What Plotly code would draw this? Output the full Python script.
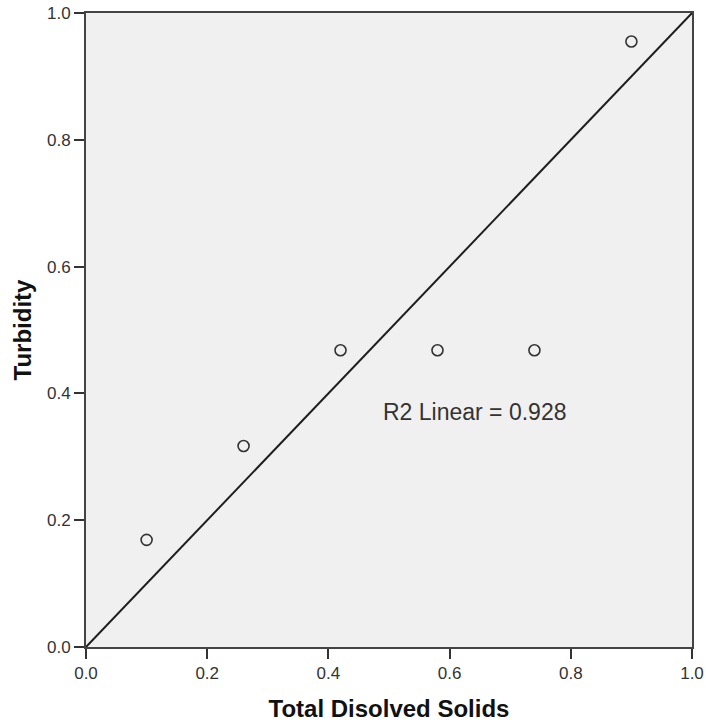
import plotly.graph_objects as go

tds = [0.10, 0.26, 0.42, 0.58, 0.74, 0.90]
turbidity = [0.169, 0.317, 0.468, 0.468, 0.468, 0.955]
fit_x = [0.0, 1.0]
fit_y = [0.0, 1.0]
tick_vals = [0.0, 0.2, 0.4, 0.6, 0.8, 1.0]
tick_text = ["0.0", "0.2", "0.4", "0.6", "0.8", "1.0"]
r2_label = "R2 Linear = 0.928"

fig = go.Figure()
fig.add_trace(go.Scatter(x=fit_x, y=fit_y, mode="lines",
                         line=dict(color="#1e1e1e", width=2), hoverinfo="skip", showlegend=False))
fig.add_trace(go.Scatter(x=tds, y=turbidity, mode="markers",
                         marker=dict(symbol="circle-open", size=11, color="#333333",
                                     line=dict(width=1.6, color="#333333")),
                         showlegend=False))

fig.add_annotation(x=0.642, y=0.371, xref="x", yref="y", text=r2_label, showarrow=False,
                   font=dict(family="Liberation Sans, Arial", size=23, color="#333333"))

axis_common = dict(range=[0, 1], tickvals=tick_vals, ticktext=tick_text, ticks="outside",
                   ticklen=10, tickwidth=2, tickcolor="#333333", showgrid=False, zeroline=False,
                   showline=True, linecolor="#444444", linewidth=2, mirror=True,
                   tickfont=dict(family="Liberation Sans, Arial", size=17, color="#333333"))

fig.update_xaxes(**axis_common,
                 title=dict(text="<b>Total Disolved Solids</b>", standoff=18,
                            font=dict(family="Liberation Sans, Arial", size=24, color="#111111")))
fig.update_yaxes(**axis_common,
                 title=dict(text="<b>Turbidity</b>", standoff=9,
                            font=dict(family="Liberation Sans, Arial", size=24, color="#111111")))

fig.update_layout(width=706, height=727, margin=dict(l=86, r=14, t=13, b=80, autoexpand=False),
                  plot_bgcolor="#f0f0f0", paper_bgcolor="white")

fig.write_html("out.html")
